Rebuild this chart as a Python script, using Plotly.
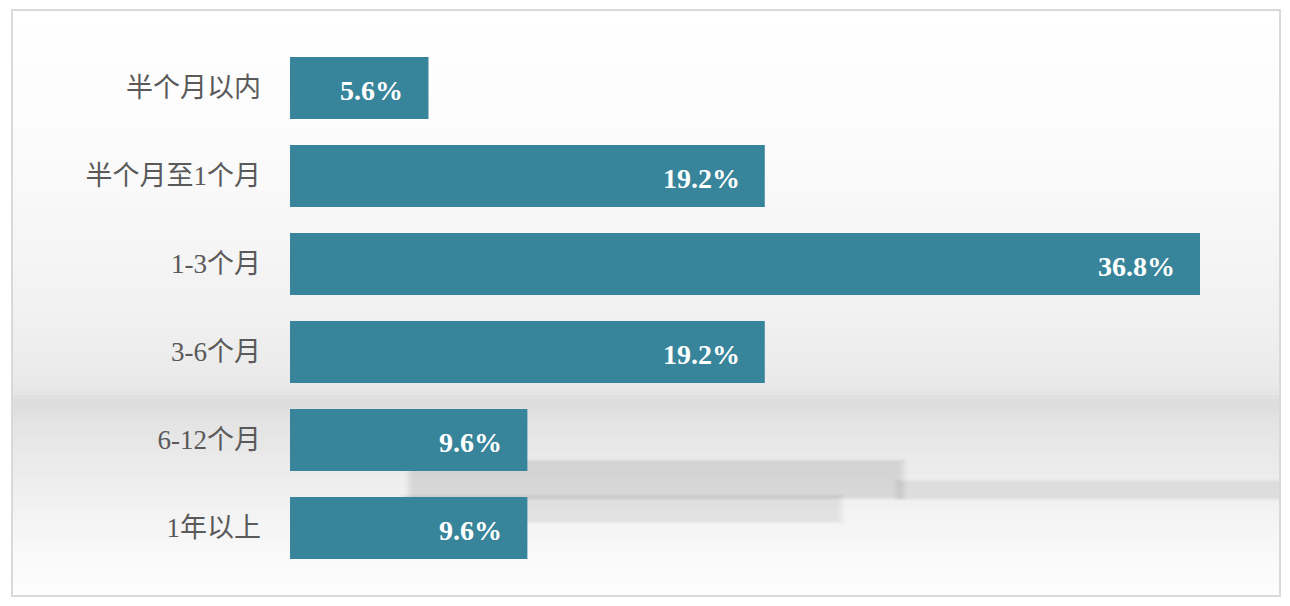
import plotly.graph_objects as go

categories = ["半个月以内", "半个月至1个月", "1-3个月", "3-6个月", "6-12个月", "1年以上"]
values = [5.6, 19.2, 36.8, 19.2, 9.6, 9.6]
labels = ["5.6%", "19.2%", "36.8%", "19.2%", "9.6%", "9.6%"]

W, H = 1290, 606
OFF = 8  # page body offset; positions below are in screen pixels
L, T = 290 - OFF, 44 - OFF
R = W - (1200 - OFF)
B = H - (572 - OFF)
pw, ph = W - L - R, H - T - B

def px(x):
    return (x - OFF - L) / pw

def py(y):
    return (H - B - (y - OFF)) / ph

shapes = []
def grey_at(y):
    stops = [(10, 255), (150, 251), (300, 242), (380, 234), (393, 229), (402, 220), (420, 227), (470, 236), (560, 250), (596, 253)]
    for (y0, g0), (y1, g1) in zip(stops, stops[1:]):
        if y0 <= y <= y1:
            t = (y - y0) / (y1 - y0)
            return int(round(g0 + (g1 - g0) * t))
    return 255

step = 4
y = 11
while y < 595:
    y2 = min(y + step, 595)
    g = grey_at((y + y2) / 2)
    shapes.append(dict(type="rect", xref="paper", yref="paper", x0=px(13), x1=px(1279),
                       y0=py(y2), y1=py(y), fillcolor=f"rgb({g},{g},{g})", line=dict(width=0), layer="below"))
    y = y2

# soft shadow bands (layered to fake a blur)
blobs = [(412, 900, 462, 497, 0.014), (406, 838, 497, 521, 0.013), (900, 1279, 482, 498, 0.012)]
for (x0, x1, y0, y1, op) in blobs:
    for k in range(6):
        d = 7 - k * 1.5
        shapes.append(dict(type="rect", xref="paper", yref="paper",
                           x0=px(max(x0 - d, 13)), x1=px(min(x1 + d, 1279)),
                           y0=py(y1 + d * 0.5), y1=py(y0 - d * 0.5),
                           fillcolor=f"rgba(0,0,0,{op})", line=dict(width=0), layer="below"))

# frame
shapes.append(dict(type="rect", xref="paper", yref="paper", x0=px(12), x1=px(1280),
                   y0=py(596), y1=py(10), fillcolor="rgba(0,0,0,0)",
                   line=dict(color="#d9d9d9", width=2), layer="below"))

fig = go.Figure()
fig.add_trace(go.Bar(
    x=values, y=categories, orientation="h",
    marker=dict(color="#38849a", line=dict(width=0)),
    hoverinfo="skip",
))

annotations = []
for c, v, t in zip(categories, values, labels):
    annotations.append(dict(x=v, y=c, xref="x", yref="y", text=t, showarrow=False,
                            xanchor="right", xshift=-23, yshift=-2,
                            font=dict(family="Liberation Serif, Times New Roman, serif", size=28, color="white", weight="bold")))

fig.update_layout(
    width=W, height=H,
    margin=dict(l=L, r=R, t=T, b=B),
    paper_bgcolor="white", plot_bgcolor="rgba(0,0,0,0)",
    bargap=0.295,
    showlegend=False,
    shapes=shapes,
    annotations=annotations,
    xaxis=dict(range=[0, 36.8], visible=False, fixedrange=True),
    yaxis=dict(autorange="reversed", showgrid=False, zeroline=False, showline=False,
               ticks="", ticklabelstandoff=28,
               tickfont=dict(family="Liberation Serif, Noto Sans CJK SC, serif", size=27, color="#5a5a5a")),
)

fig.write_html("out.html")
